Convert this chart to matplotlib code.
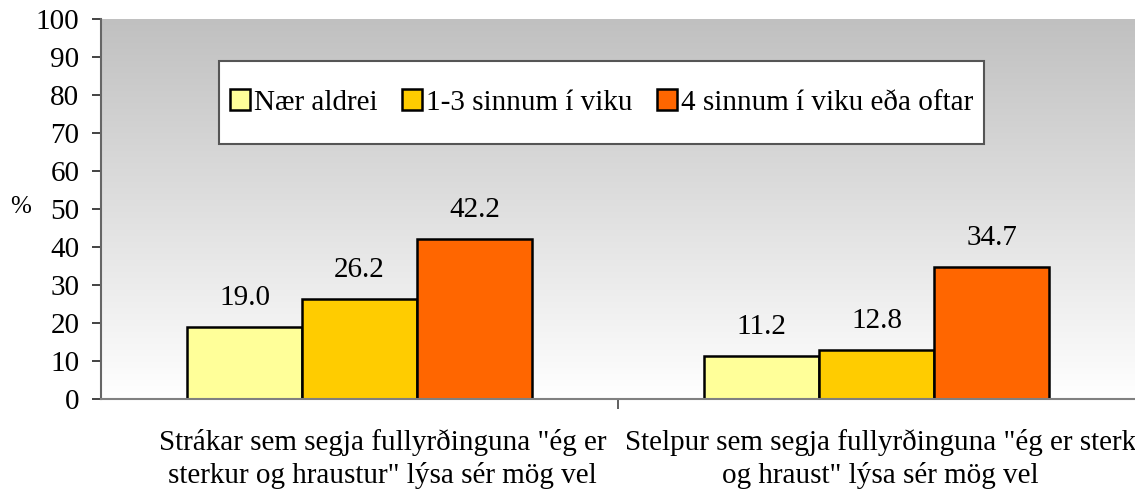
import numpy as np
import matplotlib
matplotlib.use('Agg')
import matplotlib.pyplot as plt
from matplotlib.patches import Rectangle

plt.rcParams['font.family'] = ['Liberation Serif', 'DejaVu Serif']

categories = ['Strákar sem segja fullyrðinguna "ég er\nsterkur og hraustur" lýsa sér mög vel',
              'Stelpur sem segja fullyrðinguna "ég er sterk\nog hraust" lýsa sér mög vel']
series_names = ['Nær aldrei', '1-3 sinnum í viku', '4 sinnum í viku eða oftar']
series_values = [[19.0, 11.2],
                 [26.2, 12.8],
                 [42.2, 34.7]]
colors = ['#ffff99', '#ffcc00', '#ff6600']
yticks = list(range(0, 101, 10))

W, H = 1135, 494
fig = plt.figure(figsize=(W / 100, H / 100), dpi=100)
ax = fig.add_axes([101 / W, 1 - 399 / H, 1034 / W, 380 / H])

# gradient background, grey at top to white at bottom
grad = np.linspace(0, 1, 256).reshape(-1, 1)
cmap = matplotlib.colors.LinearSegmentedColormap.from_list('bg', ['#ffffff', '#c0c0c0'])
ax.imshow(grad, extent=[0, 2, 0, 100], origin='lower', aspect='auto', cmap=cmap, zorder=0)

width = 0.2225
x = np.arange(len(categories)) + 0.5
handles = []
for i, (name, vals) in enumerate(zip(series_names, series_values)):
    pos = x + (i - 1) * width
    b = ax.bar(pos, vals, width, color=colors[i], edgecolor='black', linewidth=1.8, label=name, zorder=2)
    handles.append(b)
    for p, v in zip(pos, vals):
        ax.text(p, v + 5.8, '%.1f' % v, ha='center', va='baseline', fontsize=21, zorder=3)

ax.set_xlim(0, 2)
ax.set_ylim(0, 100)
ax.set_yticks(yticks)
ax.set_yticklabels([str(t) for t in yticks], fontsize=21)
ax.tick_params(axis='y', length=6.5, width=1.2, color='#222222', pad=9)

ax.set_xticks([1])
ax.set_xticklabels([''])
ax.tick_params(axis='x', length=7, width=1.2, color='#444444')

# category labels, one text per line
label_dx = [0.045, 0.007]
line_y = [450, 483]
for xc, dx, lab in zip(x, label_dx, categories):
    for ly, line in zip(line_y, lab.split('\n')):
        xf = (101 + (xc + dx) / 2 * 1034) / W
        fig.text(xf, 1 - ly / H, line, ha='center', va='baseline', fontsize=21)

for s in ['top', 'right']:
    ax.spines[s].set_visible(False)
ax.spines['left'].set_color('#666666')
ax.spines['left'].set_linewidth(1.5)
ax.spines['bottom'].set_color('#808080')
ax.spines['bottom'].set_linewidth(1.5)

fig.text(21 / W, 1 - 213 / H, '%', fontsize=18, ha='center', va='baseline')

# legend box
fig.patches.append(Rectangle((219 / W, 1 - 144 / H), 765 / W, 83 / H, transform=fig.transFigure,
                             facecolor='white', edgecolor='#555555', linewidth=1.5, zorder=4))
leg = fig.legend(handles=handles, labels=series_names, loc='center',
                 bbox_to_anchor=(601.5 / W, 1 - 102.5 / H), ncol=3,
                 fontsize=21, frameon=False, handlelength=0.69, handleheight=0.69,
                 handletextpad=0.12, columnspacing=0.85, borderpad=0.2)
leg.set_zorder(5)

fig.savefig('out.png', dpi=100)
